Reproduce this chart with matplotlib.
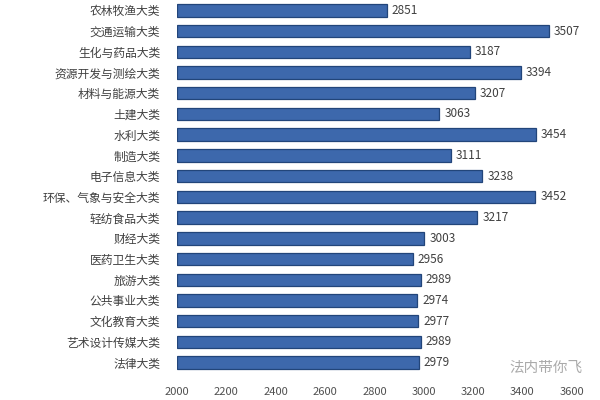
import matplotlib
matplotlib.use('Agg')
import matplotlib.pyplot as plt

plt.rcParams['font.family'] = ['Noto Sans CJK SC', 'DejaVu Sans']

categories = ['农林牧渔大类', '交通运输大类', '生化与药品大类', '资源开发与测绘大类',
              '材料与能源大类', '土建大类', '水利大类', '制造大类', '电子信息大类',
              '环保、气象与安全大类', '轻纺食品大类', '财经大类', '医药卫生大类',
              '旅游大类', '公共事业大类', '文化教育大类', '艺术设计传媒大类', '法律大类']
values = [2851, 3507, 3187, 3394, 3207, 3063, 3454, 3111, 3238,
          3452, 3217, 3003, 2956, 2989, 2974, 2977, 2989, 2979]
xticks = [2000, 2200, 2400, 2600, 2800, 3000, 3200, 3400, 3600]

fig = plt.figure(figsize=(6, 4), dpi=100)
ax = fig.add_axes([0.295, 0.0675, 0.658, 0.9325])

pos = list(range(len(categories)))
ax.barh(pos, [v - 2000 for v in values], left=2000, height=0.6,
        color='#3D68AC', edgecolor='#22457A', linewidth=0.9)
for p, v in zip(pos, values):
    ax.text(v + 20, p, str(v), va='center', ha='left', fontsize=8.5, color='#404040')

ax.set_yticks(pos)
ax.set_yticklabels(categories, fontsize=8.5, color='#404040')
ax.set_ylim(len(categories) - 0.5, -0.5)
ax.set_xlim(2000, 3600)
ax.set_xticks(xticks)
ax.set_xticklabels([str(t) for t in xticks], fontsize=8, color='#505050')
ax.tick_params(length=0)
ax.tick_params(axis='y', pad=12)
ax.tick_params(axis='x', pad=10)
for s in ax.spines.values():
    s.set_visible(False)

# watermark
fig.text(0.91, 0.08, '法内带你飞', fontsize=10.5, color='#AAAAAA', ha='center', va='center')

fig.savefig('out.png', dpi=100)
